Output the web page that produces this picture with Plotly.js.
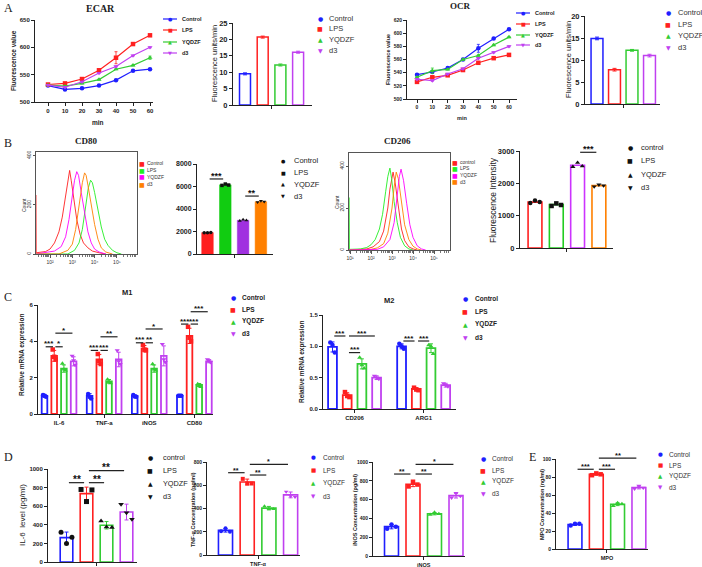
<!DOCTYPE html>
<html><head><meta charset="utf-8">
<script src="https://cdn.plot.ly/plotly-3.0.1.min.js"></script>
<style>html,body{margin:0;padding:0;background:#fff}#chart{width:702px;height:567px}</style>
</head><body><div id="chart"></div>
<script>
// ---------------- DATA ----------------
const groups = ['Control','LPS','YQDZF','d3'];
const groupsLower = ['control','LPS','YQDZF','d3'];
const histLabels80 = ['Control','LPS','YQDZF','d3'];
const histLabels206 = ['control','LPS','YQDZF','d3'];

// A: ECAR / OCR time courses
const timeMin = [0,10,20,30,40,50,60];
const ecarControl = [530,523,525,530,540,557,560];
const ecarLPS     = [532,534,542,558,581,606,622];
const ecarYQDZF   = [531,529,534,541,560,567,581];
const ecarD3      = [531,527,537,553,565,585,600];
const ecarControlErr = [1,1,1,1,1,1,1];
const ecarLPSErr     = [1,1,1,2,11,1,1];
const ecarYQDZFErr   = [1,1,1,1,1,1,3];
const ecarD3Err      = [1,1,1,1,1,1,1];
const ocrControl = [537,541,547,560,577,592,606];
const ocrLPS     = [526,533,536,544,555,562,567];
const ocrYQDZF   = [533,543,545,560,566,582,594];
const ocrD3      = [530,528,538,546,562,571,580];
const ocrControlErr = [1,1,1,1,6,1,1];
const ocrLPSErr     = [1,1,1,1,1,1,1];
const ocrYQDZFErr   = [1,4,1,1,1,1,1];
const ocrD3Err      = [1,1,1,1,1,1,1];
const ecarRate = [9.5,20.7,12.2,16.1];
const ecarRateErr = [0.3,0.3,0.3,0.3];
const ocrRate = [14.9,7.8,12.2,11.0];
const ocrRateErr = [0.3,0.3,0.2,0.3];

// B: flow cytometry histograms (x = log10 fluorescence, y = count)
const cd80ControlX = [1.37,1.38,1.8,2.0,2.2,2.4,2.55,2.7,2.8,2.88,2.95,3.05,3.2,3.35,3.5,3.7,3.9,4.2,4.5];
const cd80ControlY = [240,5,10,20,45,90,150,230,290,340,300,230,140,80,45,25,12,5,0];
const cd80LPSX = [1.37,2.8,3.1,3.3,3.45,3.6,3.72,3.82,3.9,4.0,4.15,4.3,4.45,4.6,4.8,5.0,5.2];
const cd80LPSY = [0,0,15,45,100,200,270,300,290,250,180,110,60,35,15,5,0];
const cd80YQDZFX = [1.37,1.8,2.2,2.5,2.7,2.85,3.0,3.1,3.2,3.28,3.4,3.55,3.7,3.85,4.0,4.2,4.5];
const cd80YQDZFY = [0,5,12,30,70,140,230,300,335,320,250,160,90,45,20,8,0];
const cd80D3X = [1.37,2.4,2.8,3.0,3.15,3.3,3.45,3.55,3.62,3.7,3.85,4.0,4.15,4.3,4.5,4.8];
const cd80D3Y = [0,0,15,40,100,200,290,330,320,280,200,120,60,25,8,0];

const cd206ControlX = [0.95,1.8,2.1,2.4,2.6,2.8,2.9,3.0,3.05,3.15,3.3,3.45,3.6,3.8,4.0,4.2];
const cd206ControlY = [0,5,15,40,90,200,290,350,371,320,200,100,45,15,5,0];
const cd206LPSX = [0.96,0.97,1.5,1.8,2.0,2.2,2.4,2.55,2.7,2.8,2.9,2.98,3.1,3.25,3.4,3.6,3.8,4.0];
const cd206LPSY = [250,3,5,12,25,50,100,170,280,350,390,340,230,130,60,20,5,0];
const cd206YQDZFX = [0.95,2.3,2.6,2.9,3.1,3.25,3.35,3.43,3.55,3.7,3.85,4.0,4.2,4.4,4.6];
const cd206YQDZFY = [0,3,15,50,130,260,350,385,330,220,120,60,20,5,0];
const cd206D3X = [0.95,2.0,2.3,2.6,2.8,3.0,3.1,3.2,3.3,3.45,3.6,3.8,4.0,4.2,4.4];
const cd206D3Y = [0,3,10,30,80,200,300,371,340,230,120,50,18,5,0];
const histTickVals = [1,2,3,4,5];
const histTickText = ['10¹','10²','10³','10⁴','10⁵'];

const cd80MFI = [1900,6150,3000,4650];
const cd80MFIPts = [[1880,1900,1920],[6100,6220,6130],[2950,3060,3000],[4600,4720,4650]];
const cd206MFI = [1420,1340,2560,1930];
const cd206MFIPts = [[1390,1470,1420],[1300,1380,1330],[2510,2640,2530],[1900,1960,1930]];

// C: qPCR
const m1Genes = ['IL-6','TNF-a','iNOS','CD80'];
const m1Control = [1.0,1.0,1.0,1.0];
const m1LPS     = [3.2,3.0,3.6,4.3];
const m1YQDZF   = [2.5,1.8,2.5,1.6];
const m1D3      = [2.9,3.0,3.2,2.9];
const m1ControlErr = [0.08,0.12,0.05,0.02];
const m1LPSErr     = [0.3,0.28,0.17,0.42];
const m1YQDZFErr   = [0.2,0.1,0.2,0.08];
const m1D3Err      = [0.25,0.4,0.55,0.08];
const m1ControlPts = [[1.05,1.0,0.95],[1.1,0.95,0.85],[1.05,0.97,0.95],[1.0,1.0,1.0]];
const m1LPSPts     = [[3.55,3.15,3.0],[3.3,2.9,2.75],[3.8,3.55,3.5],[4.8,4.2,4.0]];
const m1YQDZFPts   = [[2.78,2.45,2.4],[1.9,1.75,1.7],[2.75,2.45,2.4],[1.65,1.55,1.5]];
const m1D3Pts      = [[3.2,2.95,2.7],[3.5,2.9,2.75],[3.85,3.0,2.85],[3.0,2.95,2.85]];

const m2Genes = ['CD206','ARG1'];
const m2Control = [0.99,1.0];
const m2LPS     = [0.22,0.32];
const m2YQDZF   = [0.72,0.97];
const m2D3      = [0.5,0.38];
const m2ControlErr = [0.08,0.04];
const m2LPSErr     = [0.04,0.02];
const m2YQDZFErr   = [0.08,0.07];
const m2D3Err      = [0.03,0.03];
const m2ControlPts = [[1.06,1.02,0.9],[1.04,1.0,0.96]];
const m2LPSPts     = [[0.27,0.21,0.19],[0.34,0.31,0.3]];
const m2YQDZFPts   = [[0.82,0.7,0.65],[1.02,1.0,0.88]];
const m2D3Pts      = [[0.53,0.5,0.48],[0.41,0.38,0.36]];

// D/E: ELISA
const il6Level = [262,735,395,537];
const il6Err = [60,70,40,85];
const il6Pts = [[320,200,265],[780,650,775],[440,375,370],[620,530,460]];
const tnfConc = [212,628,403,517];
const tnfErr = [15,25,15,25];
const tnfPts = [[205,230,200],[655,615,615],[420,395,395],[545,505,500]];
const inosConc = [312,763,450,642];
const inosErr = [23,25,12,25];
const inosPts = [[290,335,312],[740,790,760],[440,462,448],[620,670,637]];
const mpoConc = [27.3,83,49.7,68.3];
const mpoErr = [1,1,1.5,1.5];
const mpoPts = [[26,28,28],[82,84,83],[48,51,50],[67,70,68]];

// significance: [barA, barB, level, stars] (grouped: [group, barA, barB, level, stars])
const sigCD80 = [[0,1,6670,'***'],[2,3,5150,'**']];
const sigCD206 = [[2,3,2960,'***']];
const sigM1 = [[0,0,1,3.7,'***'],[0,1,2,3.7,'*'],[0,1,3,4.45,'*'],
               [1,0,1,3.5,'***'],[1,1,2,3.5,'***'],[1,1,3,4.25,'**'],
               [2,0,1,3.92,'***'],[2,1,2,3.92,'**'],[2,1,3,4.68,'*'],
               [3,0,1,4.95,'***'],[3,1,2,4.95,'***'],[3,1,3,5.63,'***']];
const sigM2 = [[0,0,1,1.165,'***'],[0,1,3,1.165,'***'],[0,1,2,0.9,'***'],[1,0,1,1.085,'***'],[1,1,2,1.085,'***']];
const sigIL6 = [[0,1,853,'**'],[1,2,853,'**'],[1,3,982,'**']];
const sigTNF = [[0,1,708,'**'],[1,2,688,'**'],[1,3,780,'*']];
const sigINOS = [[0,1,872,'**'],[1,2,872,'**'],[1,3,975,'*']];
const sigMPO = [[0,1,88.6,'***'],[1,2,88.6,'***'],[1,3,101,'**']];

// ---------------- STYLE ----------------
const W = 702, H = 567;
const SANS = 'Liberation Sans, Arial, sans-serif';
const SERIF = 'Liberation Serif, Times New Roman, serif';
const SYMF = 'DejaVu Sans, sans-serif';
const cBlue = '#1f1fff', cRed = '#ff2020', cGreen = '#33cc33', cPurple = '#c040f0', cOrange = '#ff8000', cMagenta = '#ff00ff';
const colA = [cBlue, cRed, cGreen, cPurple];
const colHist = [cRed, '#22ee22', cMagenta, cOrange];
const colCD80 = [cRed, '#11cc11', '#a030e0', cOrange];
const colCD206 = [cRed, '#22cc22', '#cc33ff', cOrange];
const syms = ['circle','square','triangle-up','triangle-down'];
const symChars = ['●','■','▲','▼'];
const jit = [-0.17, 0, 0.17];
const BLACK4 = ['#111','#111','#111','#111'];

const layout = {
  width: W, height: H, margin: {l:0, r:0, t:0, b:0},
  paper_bgcolor: 'white', plot_bgcolor: 'rgba(0,0,0,0)',
  showlegend: false, barmode: 'overlay',
  font: {family: SANS, size: 6, color: '#222'},
  annotations: [], shapes: []
};
const data = [];
let nAx = 0;
function makeAx(box, xr, yr, xo, yo) {
  nAx++;
  const n = nAx === 1 ? '' : String(nAx);
  const base = {showgrid:false, zeroline:false, showline:true, linecolor:'#222', linewidth:1,
    ticks:'outside', ticklen:3, tickwidth:1, tickcolor:'#222', fixedrange:true,
    tickfont:{size:6, color:'#222', family:SANS, weight:'bold'}, tickmode:'array'};
  layout['xaxis'+n] = Object.assign({}, base, {domain:[box.l/W, box.r/W], range:xr, anchor:'y'+n}, xo||{});
  layout['yaxis'+n] = Object.assign({}, base, {domain:[1-box.b/H, 1-box.t/H], range:yr, anchor:'x'+n}, yo||{});
  return {xa:'x'+n, ya:'y'+n, box:box, xr:xr, yr:yr};
}
function pxX(ax, v) { return ax.box.l + (v-ax.xr[0])/(ax.xr[1]-ax.xr[0])*(ax.box.r-ax.box.l); }
function pxY(ax, v) { return ax.box.b - (v-ax.yr[0])/(ax.yr[1]-ax.yr[0])*(ax.box.b-ax.box.t); }
function txt(x, y, t, o) {
  const a = Object.assign({x:x/W, y:1-y/H, xref:'paper', yref:'paper', text:t, showarrow:false,
    xanchor:'center', yanchor:'middle', borderpad:0, font:{size:7, color:'#222', family:SANS}}, o||{});
  layout.annotations.push(a);
}
function hline(x1, x2, y, color, w) {
  layout.shapes.push({type:'line', xref:'paper', yref:'paper', x0:x1/W, x1:x2/W, y0:1-y/H, y1:1-y/H,
    line:{color:color||'#222', width:w||1}});
}
function sigBar(ax, xa, xb, level, stars, fs) {
  const y = pxY(ax, level);
  const x1 = pxX(ax, xa + 0.12), x2 = pxX(ax, xb - 0.12);
  hline(x1, x2, y, '#222', 1.2);
  txt((x1+x2)/2, y - fs*0.35, stars, {font:{size:fs, color:'#111', family:SANS, weight:'bold'}});
}
function symLegend(x, ys, colors, labels, o) {
  for (let i = 0; i < labels.length; i++) {
    txt(x, ys[i], symChars[i], {font:{size:o.ss||6, color:colors[i], family:SYMF}});
    txt(x + (o.dx||8), ys[i], labels[i], {xanchor:'left', font:{size:o.fs||7, color:o.tc||'#222', family:SANS, weight:o.bold?'bold':'normal'}});
  }
}
function lineLegend(x, ys, colors, labels, o) {
  for (let i = 0; i < labels.length; i++) {
    hline(x-7, x+7, ys[i], colors[i], 1.2);
    txt(x, ys[i], symChars[i], {font:{size:o.ss||5, color:colors[i], family:SYMF}});
    txt(x + (o.dx||11), ys[i], labels[i], {xanchor:'left', font:{size:o.fs||5.5, color:'#222', family:SANS, weight:'bold'}});
  }
}
function ytitle(x, y, t, fs, bold) {
  txt(x, y, t, {textangle:-90, font:{size:fs, color:'#222', family:SANS, weight:bold?'bold':'normal'}});
}
function lineTraces(ax, xs, series, errs, colors) {
  for (let i = 0; i < series.length; i++) {
    data.push({type:'scatter', mode:'lines+markers', x:xs, y:series[i], xaxis:ax.xa, yaxis:ax.ya,
      line:{color:colors[i], width:1.2}, marker:{symbol:syms[i], size:4.5, color:colors[i]},
      error_y:{type:'data', array:errs[i], color:colors[i], thickness:0.8, width:1.5}, cliponaxis:false});
  }
}
function barTraces(ax, xs, means, errs, colors, o) {
  for (let t = 0; t < means.length; t++) {
    data.push({type:'bar', x:xs[t], y:means[t], width:o.w, xaxis:ax.xa, yaxis:ax.ya,
      marker:{color:o.filled ? colors[t] : 'white', line:{color:colors[t], width:o.lw||1.5}},
      error_y: errs ? {type:'data', array:errs[t], color:o.errColor||colors[t], thickness:1, width:o.ew||2} : {visible:false}});
  }
}
function pointTraces(ax, xs, pts, colors, o) {
  for (let t = 0; t < pts.length; t++) {
    const px = [], py = [];
    for (let g = 0; g < pts[t].length; g++) {
      for (let k = 0; k < pts[t][g].length; k++) { px.push(xs[t][g] + jit[k]*(o.js||1)); py.push(pts[t][g][k]); }
    }
    data.push({type:'scatter', mode:'markers', x:px, y:py, xaxis:ax.xa, yaxis:ax.ya, cliponaxis:false,
      marker:{symbol:syms[t], size:o.ms||4, color:colors[t]}});
  }
}
function rng(l, r, c0, s) { return [(l-c0)/s, (r-c0)/s]; }
const centerTickOnly = {tickvals:[1.5], showticklabels:false};

// ---------------- PANEL A ----------------
const axA1 = makeAx({l:35,r:153,t:20,b:102}, rng(35,153,48,1.7), [500,650],
  {tickvals:timeMin}, {tickvals:[500,550,600,650]});
lineTraces(axA1, timeMin, [ecarControl,ecarLPS,ecarYQDZF,ecarD3], [ecarControlErr,ecarLPSErr,ecarYQDZFErr,ecarD3Err], colA);
txt(100, 8, 'ECAR', {font:{size:10, family:SERIF, weight:'bold', color:'#222'}});
ytitle(14, 61, 'Fluorescence value', 6.5, true);
txt(98, 122, 'min', {font:{size:6.5, family:SANS, weight:'bold', color:'#222'}});
lineLegend(170, [19,30,42,53], colA, groups, {fs:5.5});

const barIdx = [[0],[1],[2],[3]];
const axA2 = makeAx({l:233,r:312,t:23,b:105}, rng(233,312,245,17.7), [0,25],
  centerTickOnly, {tickvals:[0,5,10,15,20,25], tickfont:{size:7.5, color:'#222', family:SANS, weight:'bold'}});
barTraces(axA2, barIdx, ecarRate.map(v=>[v]), ecarRateErr.map(v=>[v]), colA, {w:0.62, lw:1.5});
ytitle(214, 64, 'Fluorescence units/min', 7.5, false);
symLegend(320, [18,28,39,50], colA, groups, {fs:7.5, dx:8, tc:'#333'});

const axA3 = makeAx({l:407,r:517,t:20,b:99}, rng(407,517,417,92/60), [500,620],
  {tickvals:timeMin, tickfont:{size:5, color:'#222', family:SANS, weight:'bold'}},
  {tickvals:[500,520,540,560,580,600,620], tickfont:{size:5, color:'#222', family:SANS, weight:'bold'}});
lineTraces(axA3, timeMin, [ocrControl,ocrLPS,ocrYQDZF,ocrD3], [ocrControlErr,ocrLPSErr,ocrYQDZFErr,ocrD3Err], colA);
txt(460, 6, 'OCR', {font:{size:9, family:SERIF, weight:'bold', color:'#222'}});
ytitle(388, 60, 'Fluorescence value', 5.5, true);
txt(462, 118, 'min', {font:{size:5.5, family:SANS, weight:'bold', color:'#222'}});
lineLegend(523, [13,24,35,45], colA, groups, {fs:5.5});

const axA4 = makeAx({l:585,r:660,t:16,b:104}, rng(585,660,597,17.5), [0,20],
  centerTickOnly, {tickvals:[0,5,10,15,20], tickfont:{size:7.5, color:'#222', family:SANS, weight:'bold'}});
barTraces(axA4, barIdx, ocrRate.map(v=>[v]), ocrRateErr.map(v=>[v]), colA, {w:0.68, lw:1.5});
ytitle(568, 60, 'Fluorescence units/min', 7.5, false);
symLegend(668, [12,24,35,47], colA, groups, {fs:7.5, dx:9, tc:'#333'});
txt(8, 8, 'A', {font:{size:12, family:SERIF, color:'#222'}});

// ---------------- PANEL B ----------------
function histAxes(box, xr, yr) {
  const minor = [];
  for (let d = Math.floor(xr[0]); d < xr[1]; d++) for (let m = 2; m < 10; m++) { const v = d + Math.log10(m); if (v > xr[0] && v < xr[1]) minor.push(v); }
  const tv = histTickVals.filter(v => v >= xr[0] && v <= xr[1]);
  const tt = tv.map(v => histTickText[histTickVals.indexOf(v)]);
  return makeAx(box, xr, yr,
    {tickvals:tv, ticktext:tt, mirror:true, linecolor:'#555', ticklen:2.5, tickcolor:'#555',
     tickfont:{size:5, color:'#333', family:SANS}, minor:{tickmode:'array', tickvals:minor, ticklen:1.5, tickcolor:'#777', ticks:'outside'}},
    {tickvals:[0,200,400], mirror:true, linecolor:'#555', ticklen:2.5, tickcolor:'#555', tickangle:-90,
     tickfont:{size:5, color:'#333', family:SANS}});
}
const axB1 = histAxes({l:36,r:137,t:152,b:254}, [1.372,5.9], [0,415]);
[[cd80ControlX,cd80ControlY],[cd80LPSX,cd80LPSY],[cd80YQDZFX,cd80YQDZFY],[cd80D3X,cd80D3Y]].forEach((s,i)=>{
  data.push({type:'scatter', mode:'lines', x:s[0], y:s[1], xaxis:axB1.xa, yaxis:axB1.ya, line:{color:colHist[i], width:0.9}});
});
txt(86, 141, 'CD80', {font:{size:9, family:SERIF, weight:'bold', color:'#222'}});
ytitle(24, 205, 'Count', 5, false);
for (let i = 0; i < 4; i++) {
  txt(142, [163,170,177,184][i], '■', {font:{size:6, color:colHist[i], family:SYMF}});
  txt(146, [163,170,177,184][i], histLabels80[i], {xanchor:'left', font:{size:5, color:'#333', family:SANS}});
}

const axB2 = makeAx({l:197,r:273,t:164,b:254}, rng(197,273,207.5,17.8), [0,8000],
  centerTickOnly, {tickvals:[0,2000,4000,6000,8000], tickfont:{size:7, color:'#222', family:SANS, weight:'bold'}});
barTraces(axB2, barIdx, cd80MFI.map(v=>[v]), null, colCD80, {w:0.65, filled:true, lw:0.5});
pointTraces(axB2, barIdx, cd80MFIPts.map(p=>[p]), BLACK4, {ms:3.5, js:1.1});
sigCD80.forEach(s=>sigBar(axB2, s[0], s[1], s[2], s[3], 9));
symLegend(283, [161,173,184,196], BLACK4, groups, {fs:7.5, dx:10, ss:5});

const axB3 = histAxes({l:349,r:450,t:153,b:250}, [0.952,5.76], [0,462]);
[[cd206ControlX,cd206ControlY],[cd206LPSX,cd206LPSY],[cd206D3X,cd206D3Y],[cd206YQDZFX,cd206YQDZFY]].forEach((s,i)=>{
  data.push({type:'scatter', mode:'lines', x:s[0], y:s[1], xaxis:axB3.xa, yaxis:axB3.ya, line:{color:[colHist[0],colHist[1],colHist[3],colHist[2]][i], width:0.9}});
});
txt(398, 141, 'CD206', {font:{size:9, family:SERIF, weight:'bold', color:'#222'}});
ytitle(337, 202, 'Count', 5, false);
for (let i = 0; i < 4; i++) {
  txt(455, [162,168.5,175,181.5][i], '■', {font:{size:6, color:colHist[i], family:SYMF}});
  txt(459, [162,168.5,175,181.5][i], histLabels206[i], {xanchor:'left', font:{size:5, color:'#333', family:SANS}});
}

const axB4 = makeAx({l:520,r:613,t:151,b:248}, rng(520,613,535,21.3), [0,3000],
  centerTickOnly, {tickvals:[0,1000,2000,3000], tickfont:{size:7.5, color:'#222', family:SANS, weight:'bold'}});
barTraces(axB4, barIdx, cd206MFI.map(v=>[v]), null, colCD206, {w:0.65, lw:1.6});
pointTraces(axB4, barIdx, cd206MFIPts.map(p=>[p]), BLACK4, {ms:4.5, js:1.3});
sigCD206.forEach(s=>sigBar(axB4, s[0], s[1], s[2], s[3], 9));
ytitle(493, 200, 'Fluorescence Intensity', 8.5, false);
symLegend(630, [147,161,174,187], BLACK4, groupsLower, {fs:7.5, dx:10, ss:6});
txt(8, 143, 'B', {font:{size:12, family:SERIF, color:'#222'}});

// ---------------- PANEL C ----------------
const m1X = [0,1,2,3].map(t => m1Genes.map((_,g) => g*4.65 + t));
const axC1 = makeAx({l:38,r:213,t:305,b:414}, rng(38,213,44.5,9.7), [0,6],
  {tickvals:m1Genes.map((_,g)=>g*4.65+1.5), ticktext:m1Genes, tickfont:{size:6, color:'#222', family:SANS, weight:'bold'}},
  {tickvals:[0,2,4,6], tickfont:{size:6, color:'#222', family:SANS, weight:'bold'}});
barTraces(axC1, m1X, [m1Control,m1LPS,m1YQDZF,m1D3], [m1ControlErr,m1LPSErr,m1YQDZFErr,m1D3Err], colA, {w:0.58, lw:1.8});
pointTraces(axC1, m1X, [m1ControlPts,m1LPSPts,m1YQDZFPts,m1D3Pts], colA, {ms:4.5, js:0.9});
sigM1.forEach(s=>sigBar(axC1, s[0]*4.65+s[1], s[0]*4.65+s[2], s[3], s[4], 8));
txt(127, 292, 'M1', {font:{size:7.5, family:SANS, weight:'bold', color:'#222'}});
ytitle(22, 355, 'Relative mRNA expression', 6.5, true);
symLegend(233, [297,309,321,333], colA, groups, {fs:6.5, bold:true, dx:8, ss:6});
txt(8, 297, 'C', {font:{size:12, family:SERIF, color:'#222'}});

const m2X = [0,1,2,3].map(t => m2Genes.map((_,g) => g*4.7 + t));
const axC2 = makeAx({l:323,r:456,t:315,b:409}, rng(323,456,332.5,14.7), [0,1.5],
  {tickvals:m2Genes.map((_,g)=>g*4.7+1.5), ticktext:m2Genes, tickfont:{size:6, color:'#222', family:SANS, weight:'bold'}},
  {tickvals:[0,0.5,1.0,1.5], ticktext:['0.0','0.5','1.0','1.5'], tickfont:{size:6, color:'#222', family:SANS, weight:'bold'}});
barTraces(axC2, m2X, [m2Control,m2LPS,m2YQDZF,m2D3], [m2ControlErr,m2LPSErr,m2YQDZFErr,m2D3Err], colA, {w:0.6, lw:1.8});
pointTraces(axC2, m2X, [m2ControlPts,m2LPSPts,m2YQDZFPts,m2D3Pts], colA, {ms:4.5, js:0.9});
sigM2.forEach(s=>sigBar(axC2, s[0]*4.7+s[1], s[0]*4.7+s[2], s[3], s[4], 8));
txt(389, 300, 'M2', {font:{size:7.5, family:SANS, weight:'bold', color:'#222'}});
ytitle(302, 362, 'Relative mRNA expression', 6.5, true);
symLegend(465, [298,311,324,337], colA, groups, {fs:6.5, bold:true, dx:9, ss:6});

// ---------------- PANEL D / E ----------------
const axD1 = makeAx({l:48,r:137,t:469,b:562}, rng(48,137,66.5,20), [0,1000],
  centerTickOnly, {tickvals:[0,200,400,600,800,1000], tickfont:{size:6, color:'#222', family:SANS, weight:'bold'}});
barTraces(axD1, barIdx, il6Level.map(v=>[v]), il6Err.map(v=>[v]), colA, {w:0.63, lw:1.6});
pointTraces(axD1, barIdx, il6Pts.map(p=>[p]), BLACK4, {ms:5, js:1.6});
sigIL6.forEach(s=>sigBar(axD1, s[0], s[1], s[2], s[3], 10));
ytitle(22, 515, 'IL-6  level (pg/ml)', 8, false);
symLegend(150, [457,470,483,496], BLACK4, groupsLower, {fs:7.3, dx:12, ss:6});
txt(8, 457, 'D', {font:{size:12, family:SERIF, color:'#222'}});

const axD2 = makeAx({l:207,r:300,t:462,b:555}, rng(207,300,225.5,21.7), [0,800],
  {tickvals:[1.5], ticktext:['TNF-α'], tickfont:{size:5.5, color:'#222', family:SANS, weight:'bold'}},
  {tickvals:[0,200,400,600,800], tickfont:{size:5, color:'#222', family:SANS, weight:'bold'}});
barTraces(axD2, barIdx, tnfConc.map(v=>[v]), tnfErr.map(v=>[v]), colA, {w:0.65, lw:1.6});
pointTraces(axD2, barIdx, tnfPts.map(p=>[p]), colA, {ms:4, js:1.2});
sigTNF.forEach(s=>sigBar(axD2, s[0], s[1], s[2], s[3], 7));
ytitle(193, 510, 'TNF-α Concentration (pg/ml)', 5.5, true);
symLegend(313, [457,470,483,496], colA, groups, {fs:6.5, dx:9, ss:5.5, tc:'#333'});

const axD3 = makeAx({l:373,r:465,t:462,b:556}, rng(373,465,391.5,21.5), [0,1000],
  {tickvals:[1.5], ticktext:['iNOS'], tickfont:{size:5.5, color:'#222', family:SANS, weight:'bold'}},
  {tickvals:[0,200,400,600,800,1000], tickfont:{size:5, color:'#222', family:SANS, weight:'bold'}});
barTraces(axD3, barIdx, inosConc.map(v=>[v]), inosErr.map(v=>[v]), colA, {w:0.65, lw:1.6});
pointTraces(axD3, barIdx, inosPts.map(p=>[p]), colA, {ms:4.5, js:1.2});
sigINOS.forEach(s=>sigBar(axD3, s[0], s[1], s[2], s[3], 7));
ytitle(355, 510, 'iNOS Concentration (pg/ml)', 5.5, true);
symLegend(483, [458,470,481,493], colA, groups, {fs:6.5, dx:8, ss:6, tc:'#333'});

const axE = makeAx({l:556,r:648,t:459,b:549}, rng(556,648,575,21.3), [0,100],
  {tickvals:[1.5], ticktext:['MPO'], tickfont:{size:5.5, color:'#222', family:SANS, weight:'bold'}},
  {tickvals:[0,20,40,60,80,100], tickfont:{size:5, color:'#222', family:SANS, weight:'bold'}});
barTraces(axE, barIdx, mpoConc.map(v=>[v]), mpoErr.map(v=>[v]), colA, {w:0.65, lw:1.6});
pointTraces(axE, barIdx, mpoPts.map(p=>[p]), colA, {ms:4.5, js:1.2});
sigMPO.forEach(s=>sigBar(axE, s[0], s[1], s[2], s[3], 7.5));
ytitle(542, 505, 'MPO Concentration (ng/ml)', 5.5, true);
symLegend(660, [454,465,476,487], colA, groups, {fs:6.5, dx:8, ss:5.5, tc:'#333'});
txt(532, 457, 'E', {font:{size:12, family:SERIF, color:'#222'}});

Plotly.newPlot('chart', data, layout, {displayModeBar:false, staticPlot:true});
</script></body></html>
